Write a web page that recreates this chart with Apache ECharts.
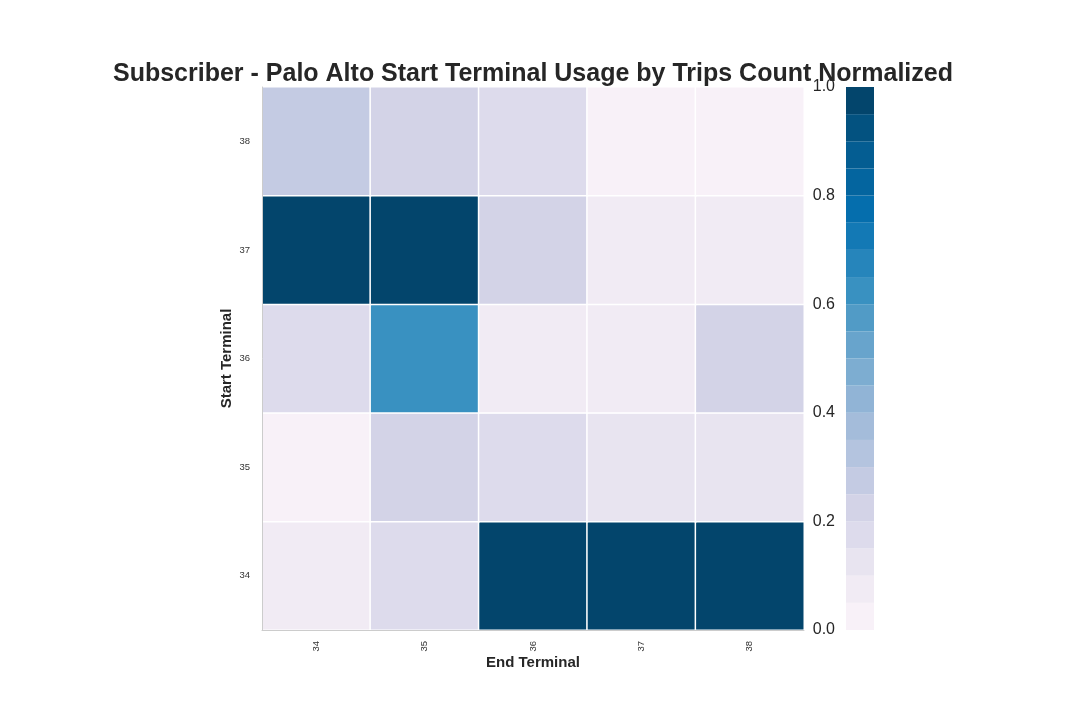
<!DOCTYPE html>
<html>
<head>
<meta charset="utf-8">
<script src="https://cdn.jsdelivr.net/npm/echarts@6/dist/echarts.min.js"></script>
<style>
  html, body { margin: 0; padding: 0; background: #fff; }
  #main { width: 1080px; height: 720px; }
</style>
</head>
<body>
<div id="main"></div>
<script>
    // terminals (same list for start and end)
    var endTerminals = ['34', '35', '36', '37', '38'];
    var startTerminals = ['34', '35', '36', '37', '38'];

    // normalized trip counts, one row per start terminal, columns = end terminal
    var start34 = [0.07, 0.17, 1.00, 1.00, 1.00];
    var start35 = [0.02, 0.22, 0.17, 0.12, 0.12];
    var start36 = [0.17, 0.62, 0.07, 0.07, 0.22];
    var start37 = [1.00, 1.00, 0.22, 0.07, 0.07];
    var start38 = [0.27, 0.22, 0.17, 0.02, 0.02];

    // 20 step PuBu palette, light to dark
    var palette = [
        '#f8f1f8', '#f1ebf4', '#e8e4f0', '#dddbec', '#d3d3e7',
        '#c4cbe3', '#b4c4df', '#a4bcda', '#91b4d6', '#7dadd1',
        '#68a4cc', '#519bc6', '#3991c1', '#2685bb', '#1379b5',
        '#056ead', '#04659f', '#045d92', '#035280', '#03456c'
    ];
    var colorTicks = [0, 0.2, 0.4, 0.6, 0.8, 1.0];

    var rows = [start34, start35, start36, start37, start38];
    var cells = [];
    for (var r = 0; r < rows.length; r++) {
        for (var c = 0; c < rows[r].length; c++) {
            cells.push([c, r, rows[r][c]]);
        }
    }

    var step = 1 / palette.length;
    var pieces = palette.map(function (col, i) {
        return { gte: i * step, lte: (i + 1) * step, color: col };
    });

    // colorbar = stacked bars, one per palette step
    var barSeries = palette.map(function (col) {
        return {
            type: 'bar',
            xAxisIndex: 1,
            yAxisIndex: 1,
            stack: 'cb',
            barWidth: '100%',
            silent: true,
            itemStyle: { color: col },
            data: [step]
        };
    });

    var font = '"Liberation Sans", Arial, Helvetica, sans-serif';
    var chart = echarts.init(document.getElementById('main'));
    var option = {
        backgroundColor: '#fff',
        animation: false,
        title: {
            text: 'Subscriber - Palo Alto Start Terminal Usage by Trips Count Normalized',
            left: 108,
            top: 57,
            textStyle: { fontFamily: font, fontSize: 25, fontWeight: 'bold', color: '#262626' }
        },
        grid: [
            { left: 262, right: 276, top: 87, bottom: 90 },
            { left: 846, width: 28, top: 87, bottom: 90 }
        ],
        xAxis: [{
            type: 'category',
            data: endTerminals,
            gridIndex: 0,
            z: 5,
            name: 'End Terminal',
            nameLocation: 'middle',
            nameGap: 25,
            nameMoveOverlap: false,
            nameTextStyle: { fontFamily: font, fontSize: 15, fontWeight: 'bold', color: '#262626' },
            axisLine: { lineStyle: { color: '#cccccc', width: 1 } },
            axisTick: { show: false },
            splitLine: { show: false },
            axisLabel: { rotate: 90, fontFamily: font, fontSize: 9.5, color: '#333', margin: 11 }
        }, {
            type: 'category',
            data: [''],
            gridIndex: 1,
            show: false
        }],
        yAxis: [{
            type: 'category',
            data: startTerminals,
            gridIndex: 0,
            z: 5,
            name: 'Start Terminal',
            nameLocation: 'middle',
            nameGap: 28,
            nameMoveOverlap: false,
            nameTextStyle: { fontFamily: font, fontSize: 15, fontWeight: 'bold', color: '#262626' },
            axisLine: { lineStyle: { color: '#cccccc', width: 1 } },
            axisTick: { show: false },
            splitLine: { show: false },
            axisLabel: { fontFamily: font, fontSize: 9.5, color: '#333', margin: 12 }
        }, {
            type: 'value',
            gridIndex: 1,
            min: colorTicks[0],
            max: colorTicks[colorTicks.length - 1],
            interval: 0.2,
            position: 'left',
            axisLine: { show: false },
            axisTick: { show: false },
            splitLine: { show: false },
            axisLabel: {
                fontFamily: font, fontSize: 16, color: '#262626', margin: 11,
                formatter: function (v) { return v.toFixed(1); }
            }
        }],
        visualMap: {
            type: 'piecewise',
            show: false,
            seriesIndex: 0,
            pieces: pieces
        },
        series: [{
            type: 'heatmap',
            xAxisIndex: 0,
            yAxisIndex: 0,
            data: cells,
            itemStyle: { borderColor: '#ffffff', borderWidth: 1.5 },
            emphasis: { disabled: true }
        }].concat(barSeries)
    };
    chart.setOption(option);
</script>
</body>
</html>
